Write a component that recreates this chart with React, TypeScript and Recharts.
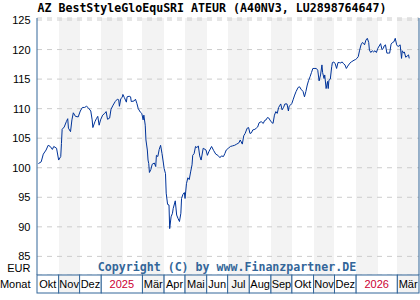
import { LineChart, Line, XAxis, YAxis, CartesianGrid, ReferenceLine } from "recharts";

// days since 2024-10-01
const days = [
  2, 6, 9, 13, 16, 19, 22, 24, 28, 31, 34, 35, 36, 39, 42, 44, 45, 48, 50, 52,
  55, 59, 62, 65, 68, 71, 73, 77, 79, 80, 83, 85, 87, 89, 91, 94, 97, 99, 101, 104,
  106, 109, 112, 115, 117, 118, 120, 122, 123, 125, 128, 129, 132, 134, 135, 139, 141, 143, 145, 148,
  150, 152, 153, 155, 156, 158, 159, 160, 161, 163, 165, 168, 170, 171, 173, 175, 177, 179, 181, 182,
  184, 185, 187, 189, 190, 192, 194, 195, 198, 200, 202, 204, 206, 207, 209, 211, 212, 214, 216, 218,
  220, 222, 223, 225, 227, 229, 231, 233, 235, 238, 242, 244, 246, 250, 253, 256, 259, 262, 264, 267,
  269, 271, 274, 277, 280, 283, 286, 289, 291, 294, 296, 298, 301, 303, 305, 307, 309, 312, 314, 316,
  318, 321, 324, 326, 328, 330, 332, 335, 338, 340, 342, 344, 346, 348, 349, 351, 353, 355, 358, 360,
  361, 363, 365, 367, 369, 371, 374, 376, 378, 381, 383, 385, 387, 389, 391, 393, 395, 398, 400, 402,
  404, 406, 408, 409, 411, 412, 414, 416, 417, 418, 420, 422, 423, 425, 427, 429, 431, 433, 434, 437,
  439, 441, 443, 445, 448, 450, 454, 456, 458, 460, 462, 464, 466, 468, 469, 471, 473, 475, 476, 478,
  480, 482, 484, 486, 488, 490, 492, 494, 496, 497, 499, 501, 503, 505, 507, 509, 511, 513, 515, 517,
  518, 520, 522, 523, 525, 526, 528, 530, 532, 533,
];

const values = [
  100.7, 101.0, 102.3, 103.0, 103.8, 103.6, 103.1, 103.6, 103.3, 101.3, 101.9, 104.1, 106.5, 106.9, 107.8, 108.3, 106.7, 106.1, 108.1, 109.3,
  108.7, 108.6, 109.6, 110.2, 110.2, 110.4, 110.2, 109.6, 108.1, 106.8, 107.8, 108.3, 108.7, 107.2, 108.1, 108.9, 109.2, 109.5, 108.2, 108.4,
  109.9, 110.6, 111.2, 111.6, 111.5, 110.4, 111.7, 111.9, 112.4, 111.9, 111.1, 112.0, 112.1, 112.0, 111.2, 111.3, 111.6, 110.9, 110.0, 109.4,
  109.2, 108.1, 108.9, 107.2, 104.7, 103.0, 101.3, 100.7, 99.2, 99.7, 100.6, 100.8, 100.2, 102.1, 101.9, 103.1, 103.8, 102.4, 100.8, 99.9,
  99.0, 95.7, 93.8, 93.7, 89.7, 91.7, 92.3, 93.1, 94.4, 92.0, 91.4, 90.9, 92.3, 94.8, 95.5, 95.8, 94.8, 97.3, 98.3, 98.0,
  99.3, 100.5, 102.1, 102.4, 103.6, 103.4, 103.7, 102.0, 101.3, 103.3, 103.0, 102.1, 102.7, 103.6, 102.9, 102.3, 102.1, 101.7, 102.0, 101.9,
  102.4, 103.0, 103.3, 103.6, 103.7, 103.8, 104.0, 104.2, 104.7, 104.0, 105.4, 105.8, 106.7, 106.8, 105.8, 105.9, 106.4, 106.5, 106.7, 106.9,
  107.6, 107.8, 107.5, 108.0, 108.1, 108.5, 108.4, 107.8, 107.5, 108.9, 109.5, 109.2, 110.2, 110.6, 110.8, 109.8, 110.2, 110.8, 110.8, 109.6,
  110.4, 110.6, 110.9, 111.6, 112.3, 112.9, 113.6, 113.7, 113.3, 112.9, 112.0, 112.9, 114.0, 114.8, 115.4, 116.1, 116.8, 116.8, 116.8, 116.5,
  114.7, 115.7, 117.4, 116.1, 115.1, 115.7, 113.4, 114.6, 113.4, 114.8, 115.0, 117.1, 117.8, 117.9, 117.6, 116.8, 117.8, 117.8, 117.7, 117.9,
  117.6, 117.4, 116.8, 117.2, 117.7, 117.9, 118.2, 118.3, 118.5, 118.8, 119.9, 120.8, 121.2, 121.0, 120.8, 121.6, 121.9, 121.2, 119.9, 119.5,
  119.8, 119.6, 119.8, 119.5, 120.2, 120.6, 121.0, 120.0, 120.2, 120.6, 120.8, 119.4, 119.4, 119.4, 120.9, 121.2, 121.3, 121.9, 120.8, 120.5,
  120.6, 120.8, 118.5, 119.8, 119.4, 119.6, 118.7, 118.9, 119.1, 118.5,
];

const monthStarts = [0, 31, 61, 92, 123, 151, 182, 212, 243, 273, 304, 335, 365, 396, 426, 457, 488, 516];
const monthLabels = ["Okt", "Nov", "Dez", "2025", "", "Mär", "Apr", "Mai", "Jun", "Jul", "Aug", "Sep", "Okt", "Nov", "Dez", "2026", "", "Mär"];
const yTicks = [85, 90, 95, 100, 105, 110, 115, 120, 125];
const X_END = 547;

const data = days.map((d, i) => ({ d, v: values[i] }));

const PLOT_LEFT = 37;
const PLOT_RIGHT = 419;
const BAND_TOP = 275;
const BAND_H = 18;
const pxPerDay = (PLOT_RIGHT - PLOT_LEFT) / X_END;

const labelFont = "'Liberation Sans', Arial, sans-serif";
const monoFont = "'DejaVu Sans Mono', monospace";
const frame = "#336699";

function MonthCell(props: any) {
  const { x, payload } = props;
  const index = monthStarts.indexOf(payload.value);
  const label = monthLabels[index];
  if (!label) return null;
  const isYear = /^\d+$/.test(label);
  const endDay = (isYear ? monthStarts[index + 2] : monthStarts[index + 1]) ?? X_END;
  const w = (endDay - monthStarts[index]) * pxPerDay;
  const shaded = !isYear && index % 2 === 1;
  return (
    <g>
      <rect x={x} y={BAND_TOP} width={w} height={BAND_H} fill={shaded ? "#f3f3f3" : "#ffffff"} stroke={frame} />
      <text
        x={x + w / 2}
        y={BAND_TOP + BAND_H / 2}
        dy={4}
        textAnchor="middle"
        fontFamily={labelFont}
        fontSize={11}
        fill={isYear ? "#cc0033" : "#000000"}
      >
        {label}
      </text>
    </g>
  );
}

function PriceTick(props: any) {
  const { y, payload } = props;
  return (
    <text x={30.5} y={y} dy={4} textAnchor="end" fontFamily={labelFont} fontSize={11} fill="#000">
      {payload.value}
    </text>
  );
}

export default function App() {
  return (
    <div style={{ position: "absolute", left: 0, top: 0, width: 420, height: 300, background: "#fff" }}>
      <LineChart width={420} height={300} data={data} margin={{ top: 18, right: 1, bottom: 7, left: 0 }}>
        <CartesianGrid horizontal={false} vertical stroke="none" verticalFill={["#ffffff", "#f3f3f3"]} fillOpacity={1} />
        <CartesianGrid vertical={false} stroke="#cccccc" strokeDasharray="5 5" />
        <XAxis
          dataKey="d"
          type="number"
          domain={[0, X_END]}
          ticks={monthStarts}
          interval={0}
          height={BAND_H}
          axisLine={false}
          tickLine={false}
          tick={MonthCell}
        />
        <YAxis
          domain={[81.85, 125.34]}
          ticks={yTicks}
          width={PLOT_LEFT}
          axisLine={{ stroke: frame }}
          tickLine={false}
          tick={PriceTick}
          allowDataOverflow
        />
        <ReferenceLine x={X_END} stroke={frame} />
        <Line type="linear" dataKey="v" stroke="#003399" strokeWidth={1} dot={false} isAnimationActive={false} />
      </LineChart>
      <svg width={420} height={300} style={{ position: "absolute", left: 0, top: 0, pointerEvents: "none" }}>
        <text x={37.5} y={12} fontFamily={monoFont} fontWeight="bold" fontSize={11.6} fill="#000">
          AZ BestStyleGloEquSRI ATEUR (A40NV3, LU2898764647)
        </text>
        <text x={227} y={271} textAnchor="middle" fontFamily={monoFont} fontWeight="bold" fontSize={11.6} fill={frame}>
          Copyright (C) by www.Finanzpartner.DE
        </text>
        <text x={30.5} y={271.5} textAnchor="end" fontFamily={labelFont} fontSize={11} fill="#000">
          EUR
        </text>
        <text x={30.5} y={288} textAnchor="end" fontFamily={labelFont} fontSize={11} fill="#000">
          Monat
        </text>
      </svg>
    </div>
  );
}
